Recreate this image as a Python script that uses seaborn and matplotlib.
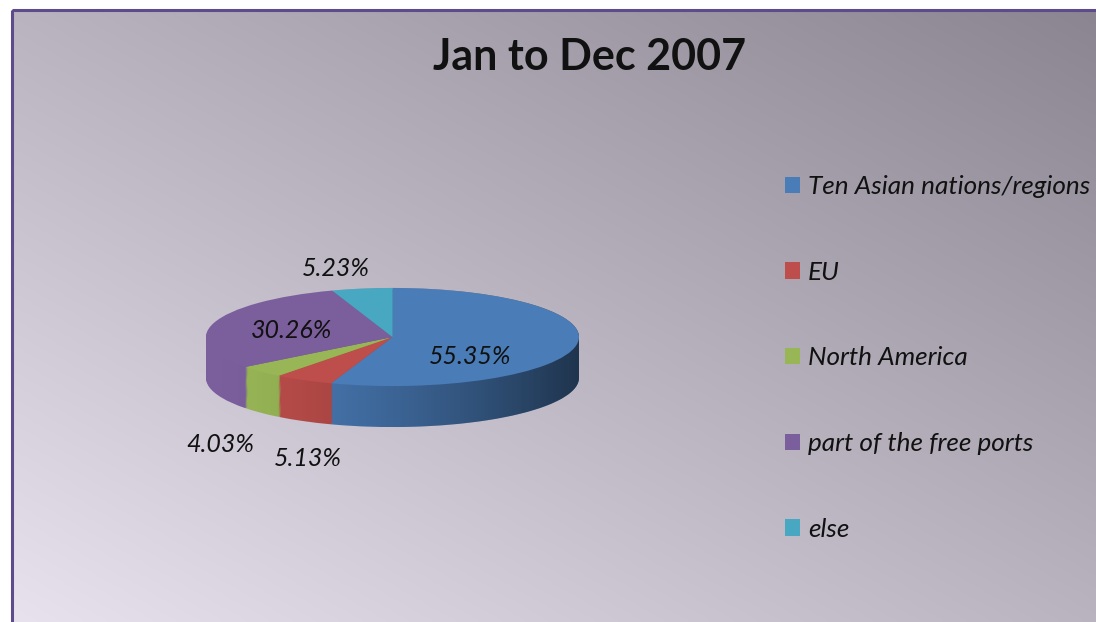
import numpy as np
import matplotlib
matplotlib.use("Agg")
import matplotlib.pyplot as plt
import seaborn as sns
from matplotlib.path import Path
from matplotlib.patches import PathPatch, Rectangle

# chart data
title = "Jan to Dec 2007"
regions = ["Ten Asian nations/regions", "EU", "North America",
           "part of the free ports", "else"]
shares = [55.35, 5.13, 4.03, 30.26, 5.23]
colors = ["#4a7cb8", "#bd4e4b", "#98b656", "#7b5f9d", "#48a8c2"]

# label anchor points in pixels (x, y from top), same order as shares
label_pos = [(470, 357), (308, 458), (220, 444), (292, 330), (336, 268)]

W, H = 1096, 622

sns.set_theme(style="white")
plt.rcParams['font.family'] = ['Lato', 'DejaVu Sans']

fig = plt.figure(figsize=(W / 100, H / 100), dpi=100)
fig.patch.set_facecolor("white")

# background: diagonal lavender gradient inside a purple frame
bg = fig.add_axes([0, 0, 1, 1])
bg.set_xlim(0, W)
bg.set_ylim(H, 0)
bg.axis('off')
gx, gy = np.meshgrid(np.linspace(0, 1, 300), np.linspace(0, 1, 200))
t = (gx + (1 - gy)) / 2
light = np.array([232, 226, 239]) / 255
dark = np.array([138, 133, 144]) / 255
grad = light[None, None, :] * (1 - t[..., None]) + dark[None, None, :] * t[..., None]
bg.imshow(grad, extent=(12, W, H, 10), aspect='auto', interpolation='bilinear')
bg.add_patch(Rectangle((12, 10), W, H, fill=False, edgecolor="#5e4b8b", lw=2.2))

# pie axes: squash the y scale so the pie becomes a tilted ellipse
k = 0.263
pax = fig.add_axes([0, 0, 1, 1])
cx, cy_px, r, depth_px = 392.5, 337, 186.5, 41
cy = (H - cy_px) / k
depth = depth_px / k

# side wall: stacked pies shifted downwards
for d in np.linspace(depth, 0, 44)[:-1]:
    pax.pie(shares, colors=colors, startangle=90, counterclock=False,
            center=(cx, cy - d), radius=r,
            wedgeprops=dict(linewidth=0, zorder=1))

# shading on the wall, darker to the right
xs = np.linspace(0, 1, 256)
alpha = 0.58 * xs ** 1.6
shade = np.zeros((2, 256, 4))
shade[..., 3] = alpha[None, :]
sh = pax.imshow(shade, extent=(cx - r, cx + r, cy - depth - r, cy + r),
                aspect='auto', zorder=1.5, interpolation='bilinear')
th1 = np.linspace(0, np.pi, 120)
th2 = np.linspace(np.pi, 2 * np.pi, 120)
verts = np.vstack([
    np.column_stack([cx + r * np.cos(th1), cy + r * np.sin(th1)]),
    np.column_stack([cx + r * np.cos(th2), cy - depth + r * np.sin(th2)]),
])
verts = np.vstack([verts, verts[:1]])
clip = PathPatch(Path(verts, closed=True), transform=pax.transData)
sh.set_clip_path(clip)

# top face
wedges, _ = pax.pie(shares, colors=colors, startangle=90, counterclock=False,
                    center=(cx, cy), radius=r,
                    wedgeprops=dict(linewidth=0, zorder=2))
pax.set_aspect('auto')
pax.set_xlim(0, W)
pax.set_ylim(0, H / k)
pax.axis('off')

# percentage labels
for v, (lx, ly) in zip(shares, label_pos):
    fig.text(lx / W, 1 - ly / H, f"{v:.2f}%", ha='center', va='center',
             fontsize=18, style='italic', color='#111111')

fig.text(590 / W, 1 - 57 / H, title, ha='center', va='center',
         fontsize=31, fontweight='bold', color='#111111')

fig.legend(wedges, regions, loc='upper left',
           bbox_to_anchor=(785 / W, 1 - 175 / H), frameon=False,
           prop=dict(style='italic', size=18.8), labelcolor='#111111',
           handlelength=0.58, handleheight=0.58, handletextpad=0.3,
           labelspacing=2.4, borderpad=0, borderaxespad=0)

fig.savefig("out.png", dpi=100)
